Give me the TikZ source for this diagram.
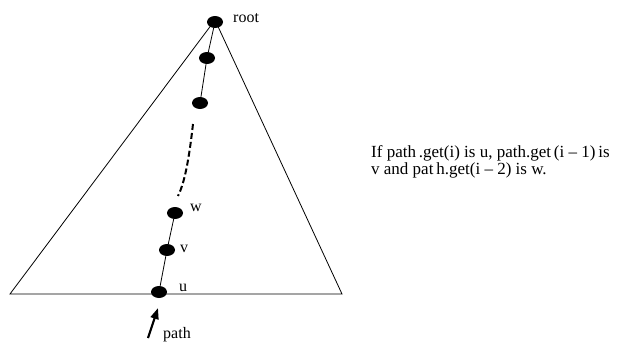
\documentclass[tikz,border=0pt]{standalone}
\usepackage{fontspec}
\setmainfont{Liberation Serif}
\usetikzlibrary{shapes.geometric,arrows.meta}
\begin{document}
\begin{tikzpicture}[x=1pt,y=-1pt,
  dot/.style={ellipse,fill=black,minimum width=16pt,minimum height=12pt,inner sep=0pt},
  lbl/.style={font=\fontsize{16}{18}\selectfont,inner sep=0pt,anchor=west},
  edge/.style={line width=0.8pt}]
\useasboundingbox (0,0) rectangle (625,343);
\coordinate (apex) at (215,20);
\coordinate (bl) at (10,294);
\coordinate (br) at (342,294);
\draw[edge] (bl) -- (apex) -- (br) -- cycle;
\node[dot] (root) at (215,22) {};
\node[dot] (n1) at (207,58) {};
\node[dot] (n2) at (200,103) {};
\node[dot] (w) at (175,213) {};
\node[dot] (v) at (167,250) {};
\node[dot] (u) at (159,292) {};
\draw[edge] (root) -- (n1) -- (n2);
\draw[edge] (w) -- (v) -- (u);
\coordinate (d1) at (193,124);
\coordinate (d2) at (178,196);
\draw[line width=2pt,dash pattern=on 6pt off 3pt] (d1) .. controls (190,150) and (186,180) .. (d2);
\node[lbl] (lroot) at (233,18) {root};
\node[lbl] (lw) at (190,208) {w};
\node[lbl] (lv) at (180,249) {v};
\node[lbl] (lu) at (179,288) {u};
\node[lbl] (lpath) at (163,335) {path};
\coordinate (a1) at (148,338);
\coordinate (a2) at (158,308);
\draw[line width=2.2pt,-{Triangle[length=11pt,width=8pt]}] (a1) -- (a2);
\node[lbl,anchor=north west,align=left,font=\fontsize{17}{17.5}\selectfont] (txt) at (371,145)
  {If path\,.get(i) is u, path.get\,(i -- 1)\,is\\v and pat\,h.get(i -- 2) is w.};
\end{tikzpicture}
\end{document}
